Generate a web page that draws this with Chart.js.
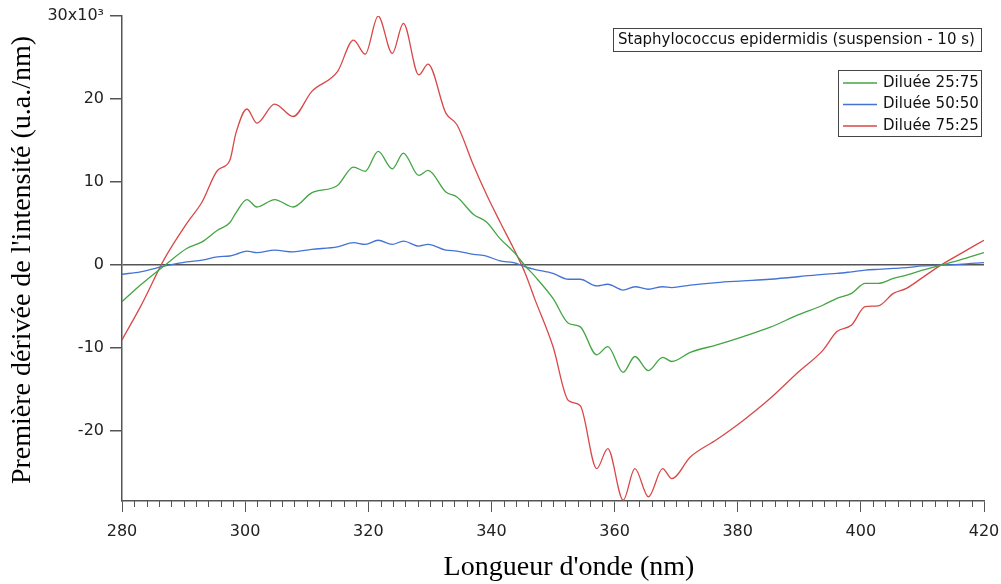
<!DOCTYPE html>
<html>
<head>
<meta charset="utf-8">
<script src="https://cdn.jsdelivr.net/npm/chart.js@4.4.0/dist/chart.umd.min.js"></script>
<style>
  body { margin: 0; background: #fff; }
  canvas { display: block; }
</style>
</head>
<body>
<canvas id="chart" width="1001" height="584"></canvas>
<script>
// wavelength (nm)
const wavelengths = [280, 283, 287, 290.5, 293, 295.5, 297.5, 298.5, 300.3, 301.9,
  304.8, 307.8, 310.8, 315, 317.6, 319.5, 321.6, 323.9, 325.7, 328.2,
  329.7, 332.6, 334.4, 337.1, 339.2, 341.4, 343.6, 345.5, 347, 350,
  352.5, 354.4, 357.1, 358.9, 361.4, 363.3, 365.5, 367.8, 369.3, 372.3,
  376.6, 380.9, 385.2, 389.8, 393.9, 396.1, 398.5, 400.7, 402.8, 405.3,
  407.4, 410, 413, 416, 420];

// first derivative, in units of 10^3
const dilue2575 = [-4.4, -2.4, 0.0, 2.0, 2.8, 4.2, 5.1, 6.3, 7.9, 7.0,
  7.9, 7.0, 8.7, 9.6, 11.8, 11.3, 13.7, 11.6, 13.5, 10.8,
  11.4, 8.8, 8.2, 6.1, 5.2, 3.2, 1.6, -0.1, -1.3, -4.0,
  -7.0, -7.4, -10.8, -9.8, -12.9, -11.0, -12.7, -11.1, -11.6, -10.5,
  -9.6, -8.6, -7.5, -6.0, -4.8, -4.0, -3.4, -2.2, -2.2, -1.6,
  -1.2, -0.6, 0, 0.6, 1.5];

const dilue5050 = [-1.1, -0.8, -0.1, 0.4, 0.6, 1.0, 1.1, 1.3, 1.7, 1.5,
  1.8, 1.6, 1.9, 2.2, 2.7, 2.5, 3.0, 2.5, 2.9, 2.3,
  2.5, 1.8, 1.7, 1.3, 1.1, 0.5, 0.3, -0.2, -0.5, -1.0,
  -1.7, -1.7, -2.5, -2.3, -3.0, -2.6, -2.9, -2.6, -2.7, -2.4,
  -2.1, -1.9, -1.7, -1.4, -1.1, -1.0, -0.8, -0.6, -0.5, -0.4,
  -0.3, -0.1, 0, 0.1, 0.3];

const dilue7525 = [-9.0, -5.0, 0.9, 5.0, 7.6, 11.4, 12.6, 15.9, 18.8, 17.1,
  19.4, 17.9, 20.9, 23.3, 27.1, 25.4, 30.0, 25.5, 29.1, 22.9,
  24.2, 18.3, 16.9, 12.0, 8.5, 5.2, 2.0, -1.0, -4.0, -9.8,
  -16.3, -16.9, -24.5, -22.1, -28.3, -24.5, -27.9, -24.5, -25.7, -23.1,
  -21.0, -18.7, -16.1, -12.9, -10.2, -8.0, -7.2, -5.0, -4.9, -3.4,
  -2.8, -1.5, 0, 1.3, 3.0];

const seriesLabels = ["Diluée 25:75", "Diluée 50:50", "Diluée 75:25"];
const boxTitle = "Staphylococcus epidermidis (suspension - 10 s)";
const xTitle = "Longueur d'onde (nm)";
const yTitle = "Première dérivée de l'intensité (u.a./nm)";

function toPoints(values) {
    return wavelengths.map((w, i) => ({ x: w, y: values[i] }));
}

// small ticks every 2 nm on the x axis
const minorTicks = {
    id: 'minorTicks',
    afterDraw(chart) {
        const ctx = chart.ctx;
        const xs = chart.scales.x;
        const bottom = chart.chartArea.bottom;
        ctx.save();
        ctx.strokeStyle = '#555';
        ctx.lineWidth = 1;
        for (let v = xs.min; v <= xs.max; v += 2) {
            if (v % 20 === 0) continue;
            const px = Math.round(xs.getPixelForValue(v)) + 0.5;
            ctx.beginPath();
            ctx.moveTo(px, bottom);
            ctx.lineTo(px, bottom + 6);
            ctx.stroke();
        }
        ctx.restore();
    }
};

// axis titles
const axisTitles = {
    id: 'axisTitles',
    afterDraw(chart) {
        const ctx = chart.ctx;
        ctx.save();
        ctx.fillStyle = '#000';
        ctx.font = '28px "Liberation Serif"';
        ctx.textAlign = 'center';
        ctx.textBaseline = 'alphabetic';
        ctx.fillText(xTitle, 569, 575);
        ctx.translate(30, 260);
        ctx.rotate(-Math.PI / 2);
        ctx.fillText(yTitle, 0, 0);
        ctx.restore();
    }
};

// title box + legend box
const boxes = {
    id: 'boxes',
    afterDraw(chart) {
        const ctx = chart.ctx;
        ctx.save();
        ctx.font = '15px "DejaVu Sans"';
        ctx.textBaseline = 'middle';
        ctx.textAlign = 'left';
        ctx.lineWidth = 1;
        ctx.strokeStyle = '#444';
        ctx.fillStyle = '#111';
        ctx.strokeRect(613.5, 28.5, 368, 23);
        ctx.fillText(boxTitle, 618, 40);

        ctx.strokeRect(838.5, 70.5, 143, 66);
        chart.data.datasets.forEach((ds, i) => {
            const y = 83 + i * 21.5;
            ctx.strokeStyle = ds.borderColor;
            ctx.lineWidth = 1.3;
            ctx.beginPath();
            ctx.moveTo(843, y);
            ctx.lineTo(877, y);
            ctx.stroke();
            ctx.fillText(ds.label, 883, y);
        });
        ctx.restore();
    }
};

new Chart(document.getElementById('chart'), {
    type: 'line',
    data: {
        datasets: [
            { label: seriesLabels[0], data: toPoints(dilue2575), borderColor: '#44a544' },
            { label: seriesLabels[1], data: toPoints(dilue5050), borderColor: '#4473d6' },
            { label: seriesLabels[2], data: toPoints(dilue7525), borderColor: '#d84848' }
        ]
    },
    options: {
        responsive: false,
        animation: false,
        events: [],
        layout: { padding: { top: 16, right: 17, bottom: 0, left: 0 } },
        elements: {
            point: { radius: 0 },
            line: { borderWidth: 1.3, cubicInterpolationMode: 'monotone', fill: false }
        },
        plugins: {
            legend: { display: false },
            tooltip: { enabled: false }
        },
        scales: {
            x: {
                type: 'linear',
                min: 280,
                max: 420,
                afterFit: s => { s.height = 83; s.paddingLeft = 0; s.paddingRight = 0; },
                border: { display: true, color: '#555', width: 1.5 },
                grid: { drawOnChartArea: false, tickLength: 11, tickColor: '#555', tickWidth: 1 },
                ticks: {
                    stepSize: 20,
                    padding: 10,
                    color: '#222',
                    font: { family: 'DejaVu Sans', size: 16 },
                    maxRotation: 0
                }
            },
            y: {
                min: -28.4,
                max: 30,
                afterFit: s => { s.width = 122; s.paddingTop = 0; s.paddingBottom = 0; },
                border: { display: true, color: '#555', width: 1.5 },
                grid: {
                    drawOnChartArea: true,
                    color: c => (c.tick && c.tick.value === 0 ? '#555' : 'rgba(0,0,0,0)'),
                    lineWidth: 1.5,
                    tickLength: 12,
                    tickColor: '#555'
                },
                ticks: {
                    stepSize: 10,
                    includeBounds: false,
                    padding: 6,
                    color: '#222',
                    font: { family: 'DejaVu Sans', size: 16 },
                    callback: v => (v === 30 ? '30x10³' : v)
                }
            }
        }
    },
    plugins: [minorTicks, axisTitles, boxes]
});
</script>
</body>
</html>
